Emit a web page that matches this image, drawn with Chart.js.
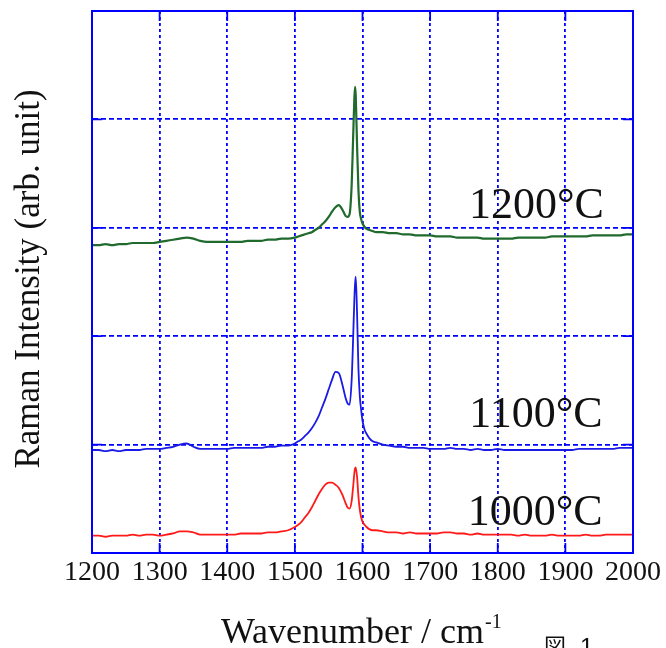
<!DOCTYPE html>
<html>
<head>
<meta charset="utf-8">
<script src="https://cdn.jsdelivr.net/npm/chart.js@4"></script>
<style>
  html, body { margin: 0; padding: 0; background: #fff; }
</style>
</head>
<body>
<canvas id="ramanChart" width="666" height="648"></canvas>
<script>
// Raman spectra, wavenumber (cm-1) vs intensity (offset per temperature)
const wavenumbers = [
  1200, 1210, 1220, 1230, 1240, 1250, 1260, 1270, 1280, 1290,
  1300, 1310, 1320, 1330, 1340, 1350, 1360, 1370, 1380, 1390,
  1400, 1410, 1420, 1430, 1440, 1450, 1460, 1470, 1480, 1490, 1500,
  1505, 1510, 1515, 1520, 1525, 1530, 1535, 1540, 1545, 1550, 1555, 1560, 1565, 1570, 1575,
  1578, 1581, 1584, 1586, 1588, 1589, 1590, 1592, 1594, 1596, 1598, 1600,
  1603, 1606, 1610, 1615, 1620,
  1630, 1640, 1650, 1660, 1670, 1680, 1690, 1700, 1710, 1720,
  1730, 1740, 1750, 1760, 1770, 1780, 1790, 1800, 1810, 1820,
  1830, 1840, 1850, 1860, 1870, 1880, 1890, 1900, 1910, 1920,
  1930, 1940, 1950, 1960, 1970, 1980, 1990, 2000
];

const int1000 = [
  0.16, 0.16, 0.15, 0.16, 0.16, 0.16, 0.17, 0.16, 0.17, 0.17,
  0.16, 0.17, 0.18, 0.20, 0.20, 0.19, 0.17, 0.17, 0.17, 0.17,
  0.17, 0.17, 0.18, 0.18, 0.18, 0.18, 0.19, 0.19, 0.20, 0.21, 0.24,
  0.26, 0.29, 0.33, 0.37, 0.42, 0.48, 0.54, 0.59, 0.63, 0.65, 0.65, 0.63, 0.60, 0.54, 0.46,
  0.42, 0.41, 0.48, 0.60, 0.74, 0.78, 0.79, 0.70, 0.52, 0.40, 0.33, 0.29,
  0.26, 0.24, 0.22, 0.21, 0.21,
  0.20, 0.19, 0.19, 0.18, 0.19, 0.18, 0.18, 0.18, 0.18, 0.19,
  0.19, 0.18, 0.18, 0.17, 0.18, 0.17, 0.17, 0.17, 0.17, 0.17,
  0.16, 0.17, 0.16, 0.16, 0.16, 0.17, 0.16, 0.16, 0.16, 0.16,
  0.17, 0.16, 0.16, 0.17, 0.17, 0.17, 0.17, 0.17
];

const int1100 = [
  0.95, 0.95, 0.94, 0.95, 0.94, 0.95, 0.95, 0.95, 0.96, 0.96,
  0.96, 0.97, 0.98, 1.00, 1.01, 0.98, 0.96, 0.96, 0.96, 0.96,
  0.96, 0.97, 0.97, 0.97, 0.97, 0.97, 0.98, 0.98, 0.99, 0.99, 1.01,
  1.03, 1.05, 1.08, 1.11, 1.15, 1.20, 1.26, 1.34, 1.42, 1.51, 1.60, 1.67, 1.66, 1.56, 1.43,
  1.38, 1.37, 1.60, 1.95, 2.35, 2.48, 2.55, 2.20, 1.70, 1.45, 1.32, 1.22,
  1.14, 1.10, 1.06, 1.03, 1.02,
  1.00, 0.99, 0.98, 0.98, 0.97, 0.97, 0.97, 0.96, 0.96, 0.96,
  0.97, 0.96, 0.96, 0.95, 0.96, 0.95, 0.95, 0.96, 0.95, 0.95,
  0.95, 0.95, 0.95, 0.95, 0.95, 0.95, 0.95, 0.95, 0.95, 0.96,
  0.96, 0.96, 0.96, 0.96, 0.96, 0.97, 0.97, 0.97
];

const int1200 = [
  2.84, 2.84, 2.85, 2.84, 2.85, 2.85, 2.86, 2.86, 2.86, 2.86,
  2.87, 2.88, 2.89, 2.90, 2.91, 2.90, 2.88, 2.87, 2.87, 2.87,
  2.87, 2.87, 2.87, 2.88, 2.88, 2.88, 2.89, 2.89, 2.90, 2.90, 2.91,
  2.92, 2.93, 2.94, 2.95, 2.96, 2.98, 3.00, 3.03, 3.06, 3.10, 3.15, 3.19, 3.21, 3.17, 3.11,
  3.10, 3.13, 3.40, 3.80, 4.20, 4.30, 4.22, 3.75, 3.35, 3.15, 3.08, 3.04,
  3.01, 2.99, 2.98, 2.97, 2.96,
  2.96, 2.95, 2.95, 2.94, 2.94, 2.93, 2.93, 2.93, 2.92, 2.92,
  2.92, 2.91, 2.91, 2.91, 2.91, 2.90, 2.90, 2.90, 2.90, 2.90,
  2.91, 2.91, 2.91, 2.91, 2.91, 2.92, 2.92, 2.92, 2.92, 2.92,
  2.92, 2.93, 2.93, 2.93, 2.93, 2.93, 2.94, 2.94
];

const seriesLabels = ['1000°C', '1100°C', '1200°C'];
const xTicks = [1200, 1300, 1400, 1500, 1600, 1700, 1800, 1900, 2000];
const yTicks = [0, 1, 2, 3, 4, 5];

const axisBlue = '#0000ff';
const serif = '"Liberation Serif", "Times New Roman", serif';

function toPoints(values) {
  return wavenumbers.map((w, i) => ({ x: w, y: values[i] }));
}

// Frame, inward ticks and all the free text
const decorations = {
  id: 'decorations',
  afterDraw(chart, args, opts) {
    const { ctx, chartArea: a, scales: { x, y } } = chart;
    ctx.save();
    ctx.setLineDash([]);
    ctx.strokeStyle = axisBlue;
    ctx.lineWidth = 1.8;
    ctx.beginPath();
    x.ticks.forEach(t => {
      const px = x.getPixelForValue(t.value);
      ctx.moveTo(px, a.bottom); ctx.lineTo(px, a.bottom - 10);
      ctx.moveTo(px, a.top); ctx.lineTo(px, a.top + 10);
    });
    y.ticks.forEach(t => {
      const py = y.getPixelForValue(t.value);
      ctx.moveTo(a.left, py); ctx.lineTo(a.left + 10, py);
      ctx.moveTo(a.right, py); ctx.lineTo(a.right - 10, py);
    });
    ctx.stroke();
    ctx.lineWidth = 2;
    ctx.strokeRect(a.left, a.top, a.right - a.left, a.bottom - a.top);

    ctx.fillStyle = '#111';

    // temperature labels
    ctx.font = '44px ' + serif;
    ctx.textAlign = 'right';
    ctx.textBaseline = 'alphabetic';
    opts.tempLabels.forEach(l => {
      ctx.fillText(l.text, x.getPixelForValue(l.x), y.getPixelForValue(l.y));
    });

    // y axis title
    ctx.save();
    ctx.translate(39, (a.top + a.bottom) / 2 - 3);
    ctx.rotate(-Math.PI / 2);
    ctx.font = '35px ' + serif;
    ctx.textAlign = 'center';
    ctx.fillText('Raman Intensity (arb. unit)', 0, 0);
    ctx.restore();

    // x axis title with superscript
    ctx.textAlign = 'left';
    ctx.font = '36px ' + serif;
    const main = 'Wavenumber / cm';
    ctx.fillText(main, 221, 643);
    const w = ctx.measureText(main).width;
    ctx.font = '20px ' + serif;
    ctx.fillText('-1', 221 + w + 1, 628);

    // figure caption (cut by the bottom edge)
    ctx.font = '22px "Noto Sans CJK JP"';
    ctx.fillText('図', 544, 654);
    ctx.font = '24px "Liberation Sans"';
    ctx.fillText('1', 580, 655);
    ctx.restore();
  }
};

const ctx = document.getElementById('ramanChart').getContext('2d');
const ramanChart = new Chart(ctx, {
  type: 'line',
  data: {
    datasets: [
      { label: seriesLabels[0], data: toPoints(int1000), borderColor: '#ff1a1a', borderWidth: 1.8 },
      { label: seriesLabels[1], data: toPoints(int1100), borderColor: '#1a1ae6', borderWidth: 1.8 },
      { label: seriesLabels[2], data: toPoints(int1200), borderColor: '#1f6a2c', borderWidth: 2.2 }
    ]
  },
  options: {
    responsive: false,
    animation: false,
    parsing: false,
    elements: {
      point: { radius: 0 },
      line: { tension: 0, cubicInterpolationMode: 'monotone', fill: false }
    },
    layout: { padding: { left: 92, right: 33, top: 11, bottom: 0 } },
    plugins: {
      legend: { display: false },
      tooltip: { enabled: false },
      decorations: {
        tempLabels: [
          { text: seriesLabels[2], x: 1957, y: 3.09 },
          { text: seriesLabels[1], x: 1955, y: 1.16 },
          { text: seriesLabels[0], x: 1955, y: 0.26 }
        ]
      }
    },
    scales: {
      x: {
        type: 'linear',
        min: 1200,
        max: 2000,
        afterBuildTicks: scale => { scale.ticks = xTicks.map(v => ({ value: v })); },
        afterFit: scale => { scale.height = 95; },
        grid: { color: axisBlue, lineWidth: 1.8, drawTicks: false },
        border: { display: true, color: axisBlue, width: 2, dash: [3, 3] },
        ticks: {
          padding: 3,
          maxRotation: 0,
          autoSkip: false,
          color: '#111',
          font: { family: serif, size: 28 },
          callback: v => String(v)
        }
      },
      y: {
        min: 0,
        max: 5,
        afterBuildTicks: scale => { scale.ticks = yTicks.map(v => ({ value: v })); },
        afterFit: scale => { scale.width = 0; },
        grid: { color: axisBlue, lineWidth: 1.8, drawTicks: false },
        border: { display: true, color: axisBlue, width: 2, dash: [5, 3] },
        ticks: { display: false }
      }
    }
  },
  plugins: [decorations]
});
</script>
</body>
</html>
